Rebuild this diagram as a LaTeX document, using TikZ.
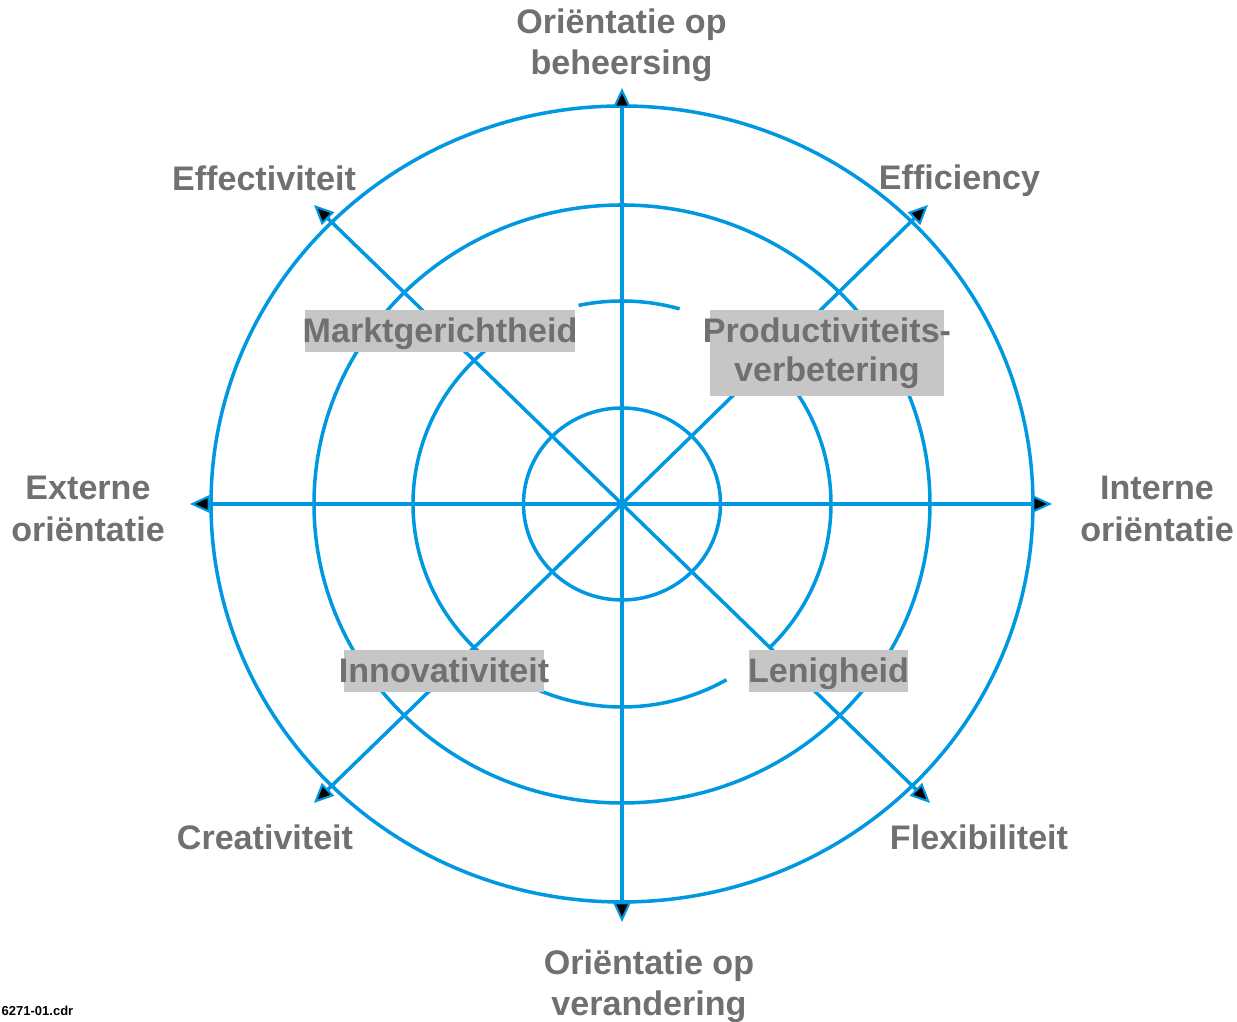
\documentclass[tikz,border=0pt]{standalone}
\usepackage{fontspec}
\setmainfont{Liberation Sans}
\usetikzlibrary{arrows.meta}
\definecolor{ringblue}{RGB}{0,152,224}
\definecolor{labelgray}{RGB}{112,112,112}
\definecolor{boxgray}{RGB}{198,198,198}
\tikzset{
	ring/.style={draw=ringblue,line width=1pt},
	axis/.style={ring,-{Triangle[length=5.6pt,width=5pt,fill=black,line width=0.6pt]}},
	pole/.style={text=labelgray,font=\fontsize{9.7}{11.7}\selectfont\bfseries,align=center,inner sep=0pt},
	field/.style={pole,fill=boxgray,inner xsep=-0.7pt,inner ysep=0pt,text height=9.4pt,text depth=2.7pt}
}
\begin{document}
\begin{tikzpicture}[x=0.1mm,y=0.1mm]
	\useasboundingbox (-622,-518) rectangle (615,504);
	\coordinate (O) at (0,0);
	\coordinate (N) at (0,416);
	\coordinate (S) at (0,-418);
	\coordinate (W) at (-432,0);
	\coordinate (E) at (430,0);
	\coordinate (NE) at (306,299);
	\coordinate (NW) at (-308,299);
	\coordinate (SW) at (-308,-299);
	\coordinate (SE) at (308,-299);
	
	\draw[ring] (O) ellipse[x radius=411,y radius=398];
	\draw[ring] (O) ellipse[x radius=308,y radius=299];
	\draw[ring] (O) ellipse[x radius=98.5,y radius=96];
	% third ring, open in places
	\draw[ring] (O) ++(74:209 and 203) arc[start angle=74,end angle=102,x radius=209,y radius=203];
	\draw[ring] (O) ++(128:209 and 203) arc[start angle=128,end angle=225,x radius=209,y radius=203];
	\draw[ring] (O) ++(225:209 and 203) arc[start angle=225,end angle=300,x radius=209,y radius=203];
	\draw[ring] (O) ++(-45:209 and 203) arc[start angle=-45,end angle=40,x radius=209,y radius=203];
	
	\foreach \p in {N,S,W,E,NE,NW,SW,SE}
		\draw[axis] (O) -- (\p);
	
	\node[pole] (beheersing) at (-0.5,459) {Oriëntatie op\\beheersing};
	\node[pole] (verandering) at (27,-482) {Oriëntatie op\\verandering};
	\node[pole] (extern) at (-534,-5) {Externe\\oriëntatie};
	\node[pole] (intern) at (535,-5) {Interne\\oriëntatie};
	\node[pole] (effectiviteit) at (-358,326) {Effectiviteit};
	\node[pole] (efficiency) at (337.5,323) {Efficiency};
	\node[pole] (creativiteit) at (-357,-333) {Creativiteit};
	\node[pole] (flexibiliteit) at (357,-333) {Flexibiliteit};
	
	\node[field] (markt) at (-182,173) {Marktgerichtheid};
	\node[pole,fill=boxgray,inner xsep=-2pt,inner ysep=2pt,font=\fontsize{9.7}{11.2}\selectfont\bfseries] (productiviteit) at (205,151) {Productiviteits-\\verbetering};
	\node[field,inner xsep=-1.4pt] (innovativiteit) at (-178,-167) {Innovativiteit};
	\node[field,inner xsep=-0.4pt] (lenigheid) at (206.5,-167) {Lenigheid};
	
	\node[anchor=south west,inner sep=0pt,font=\fontsize{3.7}{4}\selectfont\bfseries] (bestand) at (-621,-512) {6271-01.cdr};
\end{tikzpicture}
\end{document}
